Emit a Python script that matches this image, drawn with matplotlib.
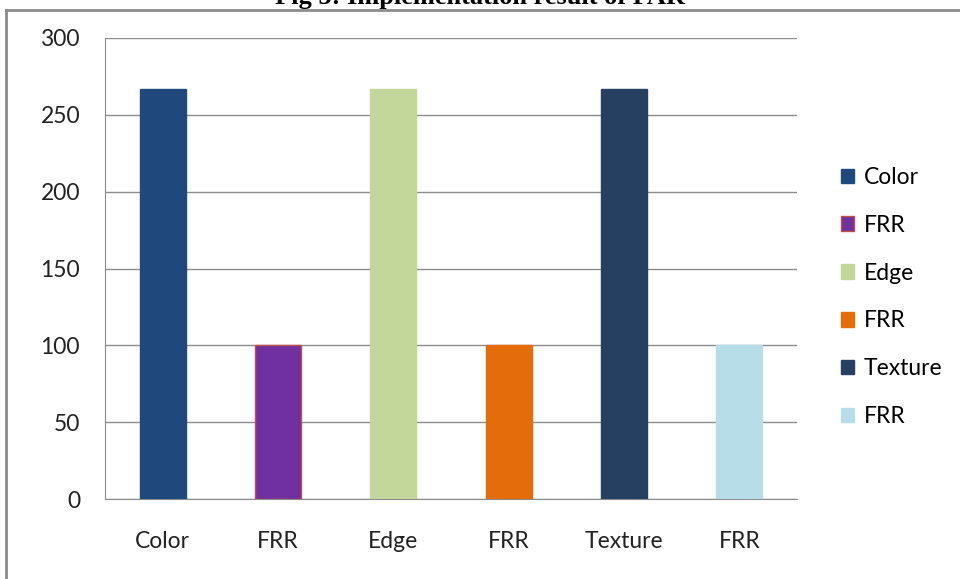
import matplotlib.pyplot as plt
from matplotlib.lines import Line2D
from matplotlib.patches import Patch

categories = ["Color", "FRR", "Edge", "FRR", "Texture", "FRR"]
values = [267, 100, 267, 100, 267, 100]
colors = ["#1F497D", "#7030A0", "#C4D79B", "#E46C0A", "#254061", "#B7DEE8"]
edges = ["#1F497D", "#C0504D", "#C4D79B", "#E46C0A", "#254061", "#B7DEE8"]
yticks = [0, 50, 100, 150, 200, 250, 300]

plt.rcParams["font.family"] = ["Lato", "DejaVu Sans"]

fig = plt.figure(figsize=(9.6, 5.79), dpi=100)
ax = fig.add_axes([105 / 960, 1 - 499 / 579, 692 / 960, 461 / 579])

x = range(len(categories))
ax.bar(x, values, width=0.4, color=colors, edgecolor=edges, linewidth=1, zorder=3)

ax.set_xlim(-0.5, len(categories) - 0.5)
ax.set_ylim(0, 300)
ax.set_yticks(yticks)
ax.set_yticklabels([str(t) for t in yticks], fontsize=16.5, color="#222222")
ax.set_xticks(list(x))
ax.set_xticklabels(categories, fontsize=16.5, color="#222222")
ax.tick_params(axis="x", length=0, pad=23)
ax.tick_params(axis="y", length=0, pad=18)
ax.grid(axis="y", color="#8c8c8c", linewidth=1, zorder=0)
for side in ["top", "right"]:
    ax.spines[side].set_visible(False)
ax.spines["left"].set_color("#8c8c8c")
ax.spines["bottom"].set_color("#8c8c8c")

# legend
handles = [Patch(facecolor=c, edgecolor=e) for c, e in zip(colors, edges)]
fig.legend(
    handles,
    categories,
    loc="center left",
    bbox_to_anchor=(820 / 960, 1 - 297 / 579),
    frameon=False,
    fontsize=16.5,
    handlelength=0.6,
    handleheight=0.6,
    handletextpad=0.4,
    labelspacing=1.17,
)

# outer chart frame
fig.add_artist(Line2D([6 / 960, 6 / 960], [0, 1 - 10 / 579], color="#8c8c8c", lw=2))
fig.add_artist(Line2D([6 / 960, 1], [1 - 10 / 579, 1 - 10 / 579], color="#8c8c8c", lw=2))

# caption, clipped at the top as in the source image
fig.text(0.5, 1 - 4 / 579, "Fig 5: Implementation result of FAR", ha="center",
         va="baseline", fontsize=19, fontweight="bold", family="Liberation Serif")

fig.savefig("out.png", dpi=100)
